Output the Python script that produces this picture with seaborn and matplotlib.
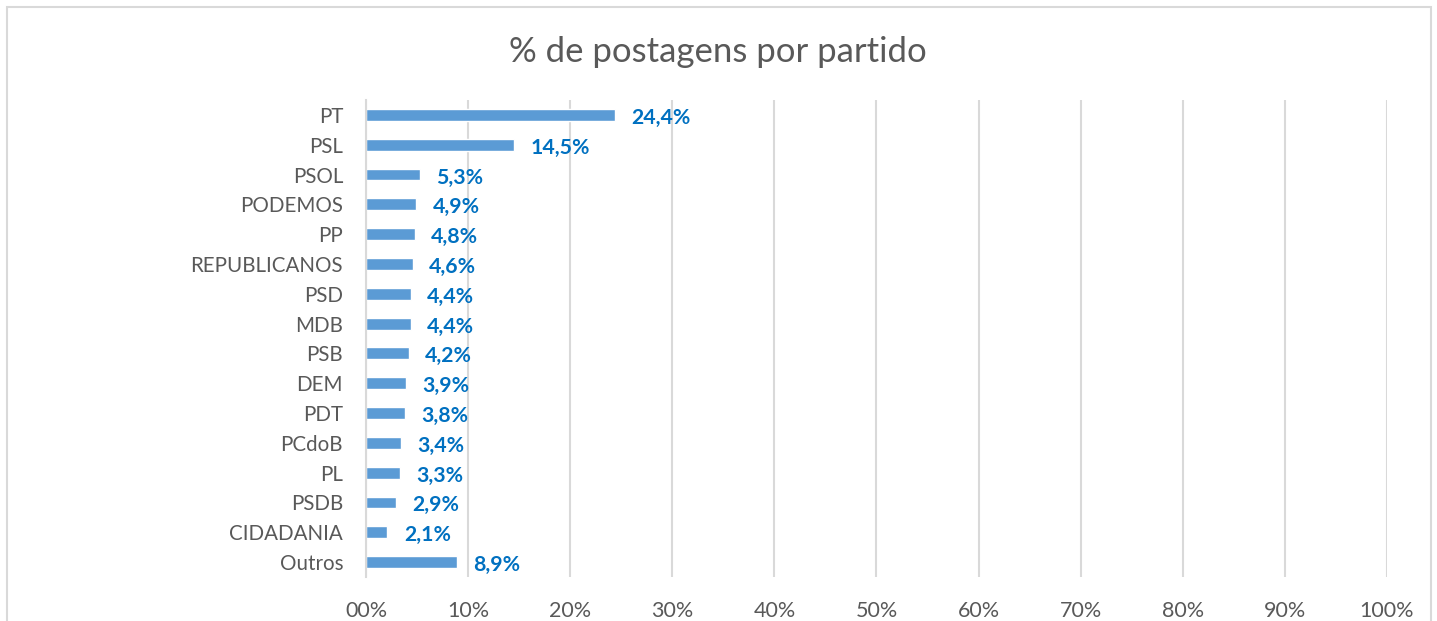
import pandas as pd
import matplotlib.pyplot as plt
import seaborn as sns
from matplotlib.patches import Rectangle

partidos = ["PT", "PSL", "PSOL", "PODEMOS", "PP", "REPUBLICANOS", "PSD", "MDB",
            "PSB", "DEM", "PDT", "PCdoB", "PL", "PSDB", "CIDADANIA", "Outros"]
percentuais = [24.4, 14.5, 5.3, 4.9, 4.8, 4.6, 4.4, 4.4,
               4.2, 3.9, 3.8, 3.4, 3.3, 2.9, 2.1, 8.9]
x_ticks = [0, 10, 20, 30, 40, 50, 60, 70, 80, 90, 100]
x_labels = ["00%", "10%", "20%", "30%", "40%", "50%", "60%", "70%", "80%", "90%", "100%"]

df = pd.DataFrame({"partido": partidos, "pct": percentuais})

sns.set_theme(style="white")
plt.rcParams["font.family"] = ["Lato", "DejaVu Sans"]

fig = plt.figure(figsize=(14.37, 6.21), dpi=100)
ax = fig.add_axes([366 / 1437, 1 - 577 / 621, 1021 / 1437, 477 / 621])

sns.barplot(data=df, x="pct", y="partido", orient="h", color="#5B9BD5",
            saturation=1, width=0.4, ax=ax)

# rótulos de valor (vírgula decimal)
for i, v in enumerate(percentuais):
    ax.text(v + 1.6, i + 0.1, f"{v:.1f}%".replace(".", ","), va="center", ha="left",
            color="#0070C0", fontsize=15.3, fontweight="bold")

ax.set_xlim(0, 100)
ax.set_ylim(len(partidos) - 0.5, -0.5)
ax.set_xticks(x_ticks)
ax.set_xticklabels(x_labels, color="#595959", fontsize=15.5)
ax.tick_params(axis="x", length=0, pad=17)
ax.tick_params(axis="y", which="major", length=0, pad=16.5, labelsize=14.8, labelcolor="#595959")
ax.set_yticks([i - 0.5 for i in range(len(partidos) + 1)], minor=True)
ax.tick_params(axis="y", which="minor", length=5, color="#D9D9D9", width=1.5)
ax.xaxis.grid(True, color="#D9D9D9", linewidth=1.5)
ax.set_axisbelow(True)
for s in ["top", "right", "bottom"]:
    ax.spines[s].set_visible(False)
ax.spines["left"].set_color("#D9D9D9")
ax.spines["left"].set_linewidth(1.5)
ax.set_xlabel("")
ax.set_ylabel("")

fig.text(718 / 1437, 1 - 52 / 621, "% de postagens por partido", ha="center", va="center",
         fontsize=25, color="#595959")

fig.patches.append(Rectangle((7 / 1437, -0.05), 1424 / 1437, 1.05 - 7 / 621,
                             transform=fig.transFigure, fill=False,
                             edgecolor="#D9D9D9", linewidth=1.5))

fig.savefig("out.png", dpi=100)
